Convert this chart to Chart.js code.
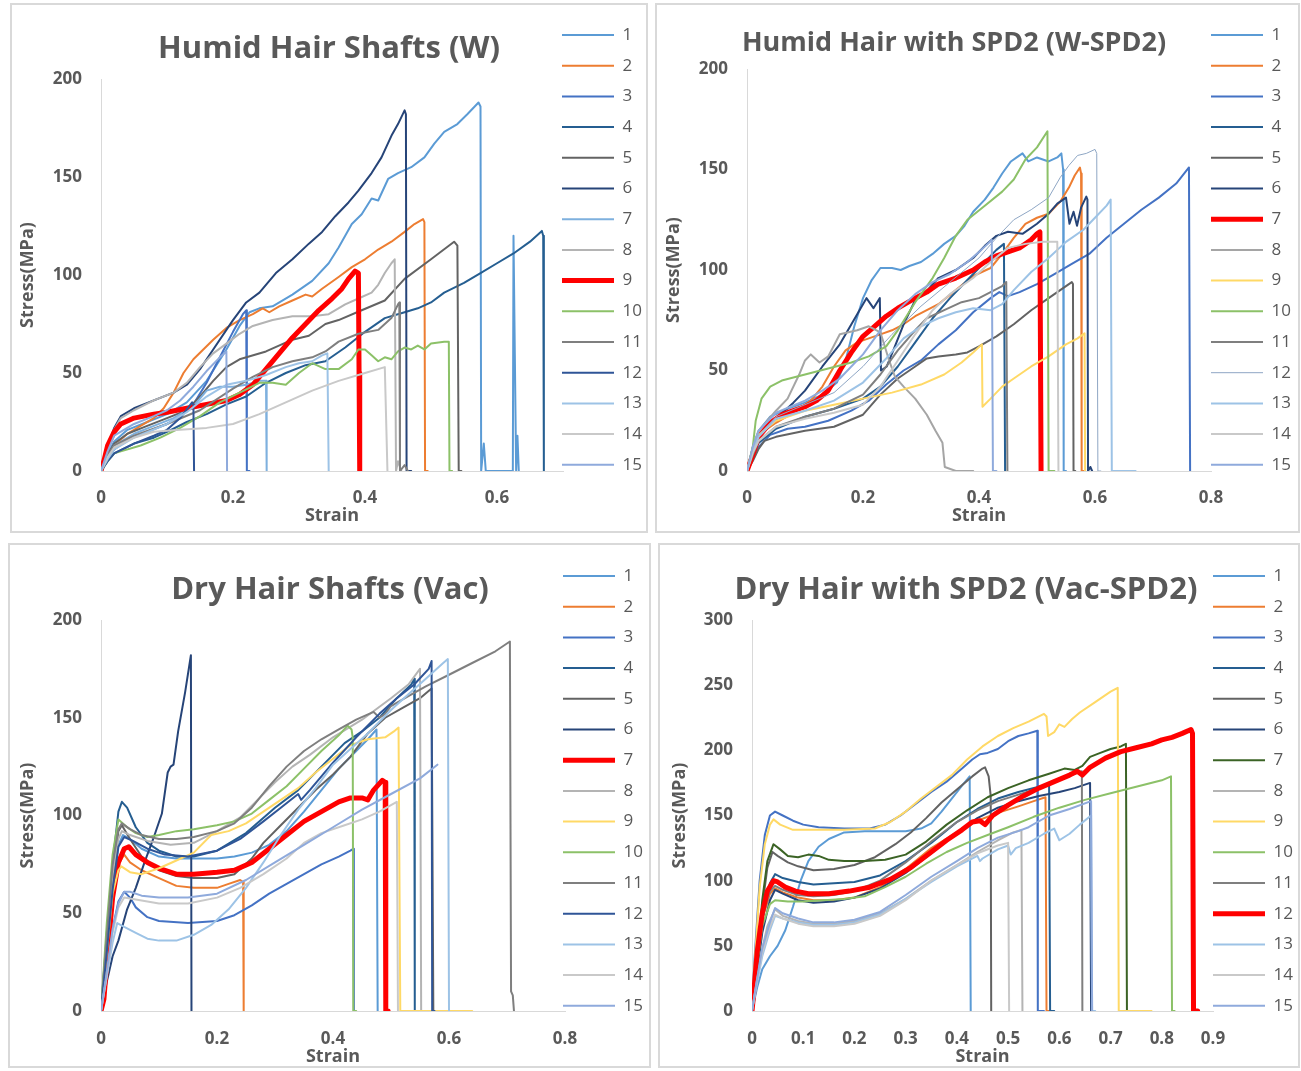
<!DOCTYPE html>
<html>
<head>
<meta charset="utf-8">
<script src="https://cdn.jsdelivr.net/npm/chart.js@4.4.1/dist/chart.umd.min.js"></script>
<style>
  body { margin: 0; background: #fff; }
  .panel { position: absolute; border: 2px solid #d9d9d9; box-sizing: border-box; }
  .panel canvas { display: block; }
</style>
</head>
<body>
<div class="panel" style="left:10px;top:3px;width:638px;height:530px"><canvas id="humidW" width="634" height="526"></canvas></div>
<div class="panel" style="left:655px;top:3px;width:645px;height:530px"><canvas id="humidSpd2" width="641" height="526"></canvas></div>
<div class="panel" style="left:8px;top:543px;width:643px;height:525px"><canvas id="dryVac" width="639" height="521"></canvas></div>
<div class="panel" style="left:658px;top:543px;width:642px;height:525px"><canvas id="drySpd2" width="638" height="521"></canvas></div>
<script>
const seriesNames = ['1','2','3','4','5','6','7','8','9','10','11','12','13','14','15'];

// stress-strain records, one [strain, stress MPa] list per hair shaft
const humidW = [
  [[0,0],[0.01,9],[0.02,15],[0.04,21],[0.07,25],[0.1,29],[0.13,35],[0.16,46],[0.19,62],[0.21,74],[0.225,81],[0.24,83],[0.26,84],[0.29,90],[0.32,97],[0.345,106],[0.36,114],[0.38,126],[0.395,131],[0.41,139],[0.42,138],[0.435,149],[0.45,152],[0.47,155],[0.49,160],[0.505,167],[0.52,173],[0.54,177],[0.555,182],[0.572,188],[0.575,186],[0.576,0],[0.58,14],[0.583,0],[0.624,0],[0.625,120],[0.627,60],[0.629,0],[0.631,18],[0.633,0]],
  [[0,0],[0.01,7],[0.02,13],[0.04,19],[0.06,23],[0.08,27],[0.095,32],[0.11,40],[0.125,50],[0.14,57],[0.155,62],[0.17,67],[0.19,73],[0.21,77],[0.23,80],[0.245,83],[0.255,81],[0.27,84],[0.29,87],[0.31,90],[0.32,89],[0.335,93],[0.36,99],[0.38,104],[0.4,108],[0.42,113],[0.44,117],[0.46,122],[0.475,126],[0.488,128.5],[0.49,127],[0.491,0],[0.495,0]],
  [[0,0],[0.01,6],[0.02,11],[0.04,16],[0.07,20],[0.1,24],[0.12,28],[0.14,34],[0.16,45],[0.18,58],[0.2,71],[0.215,80],[0.22,82],[0.221,0],[0.225,0]],
  [[0,0],[0.01,5],[0.02,9],[0.05,14],[0.08,17],[0.1,20],[0.13,25],[0.16,29],[0.19,34],[0.22,38],[0.25,45],[0.28,50],[0.31,54],[0.34,56],[0.37,63],[0.4,71],[0.43,78],[0.46,81],[0.48,83],[0.5,86],[0.52,91],[0.55,96],[0.575,101],[0.6,106],[0.625,111],[0.65,117],[0.668,122.5],[0.67,120],[0.671,0]],
  [[0,0],[0.01,8],[0.02,14],[0.04,19],[0.07,23],[0.1,27],[0.13,31],[0.15,38],[0.17,46],[0.19,53],[0.21,57],[0.25,61],[0.29,67],[0.315,69],[0.34,75],[0.36,77],[0.395,82],[0.43,87],[0.46,98],[0.5,108],[0.535,117],[0.54,115],[0.542,0],[0.546,0]],
  [[0,0],[0.01,12],[0.02,22],[0.03,28],[0.05,32],[0.08,36],[0.11,40],[0.13,44],[0.15,52],[0.17,62],[0.19,72],[0.2,77],[0.22,86],[0.24,91],[0.265,101],[0.29,108],[0.315,116],[0.335,122],[0.355,130],[0.375,137],[0.39,143],[0.41,152],[0.425,160],[0.44,171],[0.45,177],[0.46,184],[0.462,182],[0.463,0],[0.47,0]],
  [[0,0],[0.01,7],[0.02,13],[0.05,19],[0.08,23],[0.11,27],[0.14,33],[0.16,41],[0.18,43],[0.2,43],[0.22,44],[0.24,46],[0.25,46],[0.251,0]],
  [[0,0],[0.01,12],[0.02,21],[0.03,27],[0.05,31],[0.08,36],[0.11,40],[0.13,45],[0.15,53],[0.17,60],[0.19,65],[0.21,70],[0.23,74],[0.26,77],[0.29,79],[0.32,79],[0.345,80],[0.37,85],[0.39,88],[0.41,91],[0.42,95],[0.43,101],[0.44,106],[0.445,108],[0.447,0],[0.45,5],[0.455,0]],
  [[0,0],[0.005,6],[0.01,13],[0.02,20],[0.03,24],[0.05,27],[0.08,29],[0.1,30],[0.13,32],[0.16,34],[0.19,36],[0.21,39],[0.23,44],[0.25,52],[0.27,60],[0.29,68],[0.31,75],[0.33,82],[0.35,88],[0.365,93],[0.375,98],[0.385,102],[0.39,101],[0.391,50],[0.392,0]],
  [[0,0],[0.01,5],[0.02,9],[0.03,10],[0.06,13],[0.09,17],[0.12,22],[0.15,28],[0.18,35],[0.21,40],[0.24,45],[0.26,45],[0.28,44],[0.3,50],[0.32,55],[0.34,52],[0.36,52],[0.38,57],[0.39,62],[0.4,62],[0.41,59],[0.42,56],[0.43,58],[0.44,57],[0.45,61],[0.46,63],[0.47,62],[0.48,64],[0.49,62],[0.5,65],[0.52,66],[0.527,66],[0.528,0],[0.532,0]],
  [[0,0],[0.01,8],[0.02,13],[0.05,18],[0.1,24],[0.15,31],[0.2,42],[0.23,48],[0.26,53],[0.29,56],[0.32,58],[0.34,61],[0.36,66],[0.39,70],[0.42,72],[0.44,78],[0.45,85],[0.452,86],[0.453,0],[0.46,3],[0.465,0]],
  [[0,0],[0.01,5],[0.02,9],[0.05,14],[0.08,18],[0.1,21],[0.12,27],[0.138,35],[0.14,34],[0.141,0]],
  [[0,0],[0.01,6],[0.02,11],[0.05,17],[0.1,24],[0.13,30],[0.16,38],[0.19,44],[0.22,46],[0.25,49],[0.28,53],[0.3,55],[0.32,56],[0.335,59],[0.343,60],[0.345,0]],
  [[0,0],[0.01,7],[0.02,12],[0.05,17],[0.08,20],[0.12,21],[0.16,22],[0.2,24],[0.24,29],[0.28,35],[0.32,41],[0.36,46],[0.4,50],[0.43,53],[0.434,0]],
  [[0,0],[0.01,10],[0.02,18],[0.05,24],[0.08,28],[0.1,31],[0.12,36],[0.14,43],[0.16,51],[0.18,58],[0.19,61],[0.191,0]]
];

const humidSpd2 = [
  [[0,0],[0.01,12],[0.02,20],[0.04,27],[0.07,31],[0.1,34],[0.13,38],[0.155,44],[0.17,55],[0.185,72],[0.2,86],[0.215,95],[0.23,101],[0.25,101],[0.265,100],[0.28,102],[0.3,104],[0.32,108],[0.34,113],[0.36,117],[0.375,122],[0.39,129],[0.41,135],[0.425,141],[0.44,148],[0.455,154],[0.465,156],[0.475,158],[0.485,154],[0.5,156],[0.52,154],[0.535,156],[0.542,158],[0.545,150],[0.546,0],[0.55,0]],
  [[0,0],[0.01,10],[0.02,18],[0.05,24],[0.08,29],[0.11,35],[0.13,42],[0.15,52],[0.17,60],[0.19,64],[0.21,66],[0.23,68],[0.25,70],[0.27,73],[0.29,77],[0.31,80],[0.33,83],[0.36,90],[0.39,97],[0.42,101],[0.44,108],[0.46,116],[0.48,123],[0.5,126],[0.52,128],[0.54,134],[0.555,141],[0.565,147],[0.574,151],[0.576,148],[0.577,0],[0.58,0]],
  [[0,0],[0.01,6],[0.02,12],[0.04,18],[0.07,21],[0.1,22],[0.14,25],[0.18,30],[0.21,35],[0.24,43],[0.27,50],[0.3,55],[0.33,63],[0.36,70],[0.39,79],[0.42,86],[0.435,89],[0.45,87],[0.47,89],[0.5,93],[0.53,98],[0.56,103],[0.59,108],[0.62,116],[0.65,123],[0.68,130],[0.71,136],[0.74,143],[0.762,151],[0.764,0]],
  [[0,0],[0.01,8],[0.02,14],[0.05,21],[0.1,27],[0.15,31],[0.2,36],[0.23,42],[0.26,52],[0.29,64],[0.32,76],[0.35,86],[0.38,95],[0.41,104],[0.43,110],[0.443,113],[0.445,0]],
  [[0,0],[0.01,5],[0.02,11],[0.03,15],[0.05,17],[0.1,20],[0.15,22],[0.2,28],[0.23,38],[0.26,46],[0.29,52],[0.31,56],[0.33,57],[0.36,58],[0.38,59],[0.4,62],[0.43,67],[0.46,73],[0.49,80],[0.52,86],[0.545,91],[0.56,94],[0.562,93],[0.563,0],[0.566,0]],
  [[0,0],[0.01,10],[0.02,17],[0.05,26],[0.08,34],[0.1,40],[0.13,52],[0.16,63],[0.18,73],[0.2,83],[0.206,86],[0.218,81],[0.229,86],[0.231,50],[0.241,52],[0.255,62],[0.27,73],[0.29,85],[0.305,88],[0.33,96],[0.36,100],[0.39,106],[0.41,112],[0.43,117],[0.45,119],[0.475,118],[0.5,123],[0.52,128],[0.535,133],[0.55,136],[0.556,123],[0.563,129],[0.569,122],[0.576,131],[0.585,136.5],[0.587,135],[0.588,0],[0.592,2],[0.595,0]],
  [[0,0],[0.01,8],[0.02,17],[0.04,24],[0.06,28],[0.08,30],[0.1,32],[0.12,35],[0.14,40],[0.16,50],[0.18,59],[0.2,67],[0.22,72],[0.24,77],[0.26,81],[0.29,86],[0.31,89],[0.33,93],[0.36,96],[0.39,100],[0.41,104],[0.43,107],[0.45,109],[0.47,111],[0.49,115],[0.5,118],[0.505,119],[0.507,0]],
  [[0,0],[0.01,12],[0.02,20],[0.05,30],[0.07,36],[0.09,48],[0.1,55],[0.11,58],[0.125,54],[0.14,57],[0.16,68],[0.19,70],[0.21,72],[0.23,69],[0.245,55],[0.255,47],[0.27,42],[0.29,36],[0.31,28],[0.325,20],[0.337,14],[0.341,2],[0.36,0],[0.39,0]],
  [[0,0],[0.01,10],[0.02,18],[0.05,25],[0.1,30],[0.15,33],[0.2,36],[0.25,39],[0.3,43],[0.34,48],[0.37,54],[0.39,59],[0.405,63],[0.406,32],[0.42,36],[0.44,42],[0.46,46],[0.49,52],[0.52,57],[0.55,63],[0.57,66],[0.582,68.5],[0.583,0]],
  [[0,0],[0.01,12],[0.015,25],[0.025,36],[0.04,42],[0.06,45],[0.1,48],[0.14,51],[0.18,54],[0.21,57],[0.24,62],[0.26,70],[0.29,84],[0.32,96],[0.34,106],[0.36,117],[0.38,125],[0.41,132],[0.44,139],[0.46,145],[0.48,155],[0.5,161],[0.518,169],[0.52,0],[0.53,0]],
  [[0,0],[0.01,8],[0.02,15],[0.05,22],[0.1,27],[0.15,31],[0.2,38],[0.23,48],[0.26,60],[0.29,70],[0.31,76],[0.34,80],[0.37,84],[0.4,86],[0.42,89],[0.44,92],[0.447,94],[0.449,0]],
  [[0,0],[0.01,10],[0.02,18],[0.05,27],[0.1,33],[0.15,39],[0.2,52],[0.25,68],[0.3,82],[0.35,94],[0.4,106],[0.43,116],[0.46,125],[0.49,130],[0.52,136],[0.54,146],[0.555,152],[0.57,157],[0.585,158],[0.6,160],[0.603,158],[0.605,0],[0.61,0]],
  [[0,0],[0.01,10],[0.02,17],[0.05,26],[0.1,30],[0.15,35],[0.2,44],[0.24,56],[0.27,66],[0.3,72],[0.33,76],[0.36,79],[0.39,81],[0.42,80],[0.44,83],[0.46,90],[0.49,99],[0.52,106],[0.55,114],[0.58,120],[0.6,126],[0.62,132],[0.627,135],[0.629,0],[0.67,0]],
  [[0,0],[0.01,9],[0.02,15],[0.05,22],[0.1,26],[0.15,29],[0.2,33],[0.23,42],[0.26,55],[0.29,68],[0.32,80],[0.35,88],[0.39,96],[0.42,104],[0.45,111],[0.48,113],[0.51,114],[0.535,114],[0.537,0]],
  [[0,0],[0.01,12],[0.02,20],[0.05,29],[0.1,35],[0.13,40],[0.16,46],[0.2,58],[0.23,70],[0.26,80],[0.29,88],[0.32,94],[0.35,98],[0.38,104],[0.4,109],[0.415,113],[0.422,115],[0.424,0],[0.43,0]]
];

const dryVac = [
  [[0,0],[0.01,30],[0.02,62],[0.03,85],[0.038,90],[0.05,88],[0.07,83],[0.1,79],[0.13,78],[0.16,78],[0.2,78],[0.23,79],[0.26,81],[0.29,85],[0.32,92],[0.35,102],[0.38,113],[0.41,124],[0.44,133],[0.46,139],[0.475,144],[0.477,0]],
  [[0,0],[0.01,25],[0.02,55],[0.03,75],[0.04,80],[0.05,76],[0.07,72],[0.1,68],[0.13,64],[0.16,63],[0.2,63],[0.22,65],[0.24,67],[0.245,66],[0.246,0]],
  [[0,0],[0.01,20],[0.02,42],[0.03,56],[0.04,61],[0.05,58],[0.06,53],[0.08,48],[0.1,46],[0.15,45],[0.2,46],[0.23,49],[0.26,54],[0.29,60],[0.32,65],[0.35,70],[0.38,75],[0.41,79],[0.43,82],[0.435,83],[0.436,0]],
  [[0,0],[0.01,40],[0.02,75],[0.03,102],[0.036,107],[0.045,104],[0.06,94],[0.08,86],[0.1,82],[0.13,79],[0.16,79],[0.2,82],[0.25,91],[0.3,104],[0.34,113],[0.38,125],[0.42,137],[0.45,143],[0.48,150],[0.51,160],[0.535,167],[0.54,170],[0.541,0]],
  [[0,0],[0.01,35],[0.02,70],[0.03,92],[0.036,95],[0.05,88],[0.07,79],[0.1,72],[0.13,69],[0.16,68],[0.2,68],[0.23,70],[0.26,78],[0.28,86],[0.31,95],[0.34,104],[0.37,113],[0.4,121],[0.43,130],[0.46,142],[0.49,150],[0.52,155],[0.55,160],[0.57,165],[0.573,0]],
  [[0,0],[0.01,15],[0.02,28],[0.03,36],[0.045,52],[0.06,63],[0.075,76],[0.09,88],[0.105,101],[0.115,122],[0.12,125],[0.125,126],[0.133,143],[0.145,163],[0.155,182],[0.156,0]],
  [[0,0],[0.005,6],[0.01,25],[0.02,58],[0.03,76],[0.04,83],[0.048,84],[0.06,80],[0.08,76],[0.1,73],[0.13,70],[0.16,70],[0.2,71],[0.23,72],[0.26,76],[0.29,83],[0.32,90],[0.35,97],[0.38,102],[0.41,107],[0.43,109],[0.45,109],[0.46,108],[0.47,113],[0.485,118],[0.49,117],[0.491,0],[0.495,0]],
  [[0,0],[0.01,35],[0.02,70],[0.03,88],[0.036,92],[0.05,90],[0.08,87],[0.12,85],[0.16,86],[0.2,92],[0.24,99],[0.27,108],[0.3,117],[0.33,125],[0.36,131],[0.4,140],[0.45,149],[0.5,160],[0.53,167],[0.55,175],[0.552,0]],
  [[0,0],[0.01,30],[0.02,60],[0.03,72],[0.035,74],[0.05,71],[0.07,70],[0.1,73],[0.13,77],[0.16,81],[0.19,90],[0.22,92],[0.25,96],[0.28,102],[0.31,108],[0.34,114],[0.37,122],[0.4,129],[0.43,136],[0.46,139],[0.49,140],[0.505,143],[0.513,145],[0.516,0],[0.64,0]],
  [[0,0],[0.01,45],[0.02,80],[0.03,98],[0.045,94],[0.06,91],[0.08,89],[0.1,90],[0.13,92],[0.16,93],[0.2,95],[0.23,97],[0.26,101],[0.29,108],[0.32,115],[0.35,124],[0.38,133],[0.41,141],[0.425,146],[0.432,144],[0.434,140],[0.435,0],[0.44,0]],
  [[0,0],[0.01,38],[0.02,75],[0.03,93],[0.036,96],[0.05,93],[0.07,90],[0.1,88],[0.13,88],[0.16,89],[0.2,92],[0.23,96],[0.26,104],[0.29,115],[0.32,125],[0.35,133],[0.38,139],[0.41,144],[0.44,149],[0.47,153],[0.48,150],[0.49,152],[0.5,156],[0.53,161],[0.56,166],[0.6,172],[0.64,178],[0.68,184],[0.705,189],[0.707,10],[0.71,8],[0.712,0]],
  [[0,0],[0.01,30],[0.02,62],[0.03,84],[0.04,89],[0.055,87],[0.08,83],[0.11,80],[0.15,79],[0.2,82],[0.24,88],[0.28,97],[0.31,104],[0.34,111],[0.345,108],[0.36,113],[0.4,127],[0.44,140],[0.48,152],[0.51,160],[0.54,167],[0.565,175],[0.57,179],[0.571,0],[0.575,0]],
  [[0,0],[0.01,18],[0.02,35],[0.028,45],[0.04,43],[0.06,40],[0.08,37],[0.1,36],[0.13,36],[0.16,39],[0.19,44],[0.22,52],[0.25,63],[0.28,76],[0.31,90],[0.34,103],[0.37,114],[0.4,126],[0.43,134],[0.46,142],[0.5,154],[0.53,162],[0.56,170],[0.59,178],[0.598,180],[0.6,0]],
  [[0,0],[0.01,18],[0.02,40],[0.03,53],[0.04,58],[0.06,57],[0.1,55],[0.15,55],[0.2,58],[0.24,63],[0.28,70],[0.32,78],[0.35,86],[0.38,91],[0.42,95],[0.45,98],[0.48,102],[0.51,107],[0.512,0]],
  [[0,0],[0.01,20],[0.02,42],[0.03,55],[0.04,61],[0.05,61],[0.07,59],[0.1,58],[0.15,58],[0.2,60],[0.25,67],[0.3,76],[0.35,85],[0.4,94],[0.45,103],[0.5,111],[0.55,119],[0.58,126]]
];

const drySpd2 = [
  [[0,0],[0.01,18],[0.02,32],[0.035,42],[0.05,50],[0.065,62],[0.08,80],[0.095,100],[0.11,115],[0.13,126],[0.15,132],[0.18,137],[0.22,138],[0.26,138],[0.3,138],[0.33,140],[0.35,144],[0.37,153],[0.39,163],[0.41,173],[0.425,180],[0.427,0]],
  [[0,0],[0.01,40],[0.02,70],[0.035,90],[0.045,94],[0.06,91],[0.09,87],[0.12,85],[0.16,85],[0.2,87],[0.25,95],[0.3,109],[0.35,125],[0.4,137],[0.44,146],[0.48,152],[0.52,157],[0.55,161],[0.573,164],[0.575,0],[0.58,0]],
  [[0,0],[0.005,40],[0.015,100],[0.025,135],[0.035,150],[0.045,153],[0.06,150],[0.08,146],[0.1,143],[0.13,141],[0.18,140],[0.23,140],[0.26,143],[0.29,150],[0.32,159],[0.35,168],[0.38,176],[0.41,186],[0.43,193],[0.445,197],[0.46,198],[0.48,201],[0.5,207],[0.52,211],[0.54,213],[0.557,215],[0.558,0],[0.57,0]],
  [[0,0],[0.01,35],[0.02,70],[0.035,98],[0.045,105],[0.06,102],[0.09,99],[0.12,97],[0.16,98],[0.2,99],[0.25,104],[0.3,115],[0.35,129],[0.4,145],[0.44,155],[0.48,163],[0.52,168],[0.56,172],[0.58,174],[0.582,0],[0.59,0]],
  [[0,0],[0.01,40],[0.02,80],[0.03,110],[0.04,122],[0.05,119],[0.07,114],[0.09,111],[0.12,108],[0.16,109],[0.2,112],[0.24,118],[0.28,128],[0.31,137],[0.34,148],[0.37,160],[0.4,170],[0.43,180],[0.45,186],[0.455,187],[0.462,180],[0.466,165],[0.467,0]],
  [[0,0],[0.01,30],[0.02,60],[0.035,85],[0.045,93],[0.06,90],[0.09,85],[0.12,83],[0.16,84],[0.2,87],[0.25,94],[0.3,106],[0.35,121],[0.4,137],[0.44,148],[0.48,156],[0.52,161],[0.56,165],[0.6,168],[0.63,171],[0.66,175],[0.662,0],[0.667,0]],
  [[0,0],[0.01,40],[0.02,85],[0.03,115],[0.042,128],[0.055,124],[0.07,119],[0.09,118],[0.11,120],[0.13,119],[0.15,116],[0.18,115],[0.22,115],[0.26,116],[0.3,120],[0.34,130],[0.38,143],[0.42,154],[0.46,164],[0.5,171],[0.54,177],[0.58,182],[0.61,186],[0.63,185],[0.645,188],[0.66,195],[0.68,198],[0.7,201],[0.72,203],[0.73,205],[0.732,0],[0.74,0]],
  [[0,0],[0.01,25],[0.02,48],[0.03,65],[0.045,78],[0.06,73],[0.09,69],[0.12,67],[0.16,67],[0.2,69],[0.25,75],[0.3,86],[0.35,100],[0.4,112],[0.44,122],[0.48,131],[0.51,137],[0.526,139],[0.528,0]],
  [[0,0],[0.005,35],[0.015,95],[0.025,128],[0.035,143],[0.042,147],[0.055,143],[0.08,139],[0.12,139],[0.18,139],[0.24,140],[0.27,145],[0.3,153],[0.33,163],[0.36,172],[0.39,181],[0.42,193],[0.45,203],[0.48,211],[0.51,217],[0.54,222],[0.57,228],[0.575,226],[0.578,211],[0.59,214],[0.6,220],[0.61,218],[0.625,224],[0.64,229],[0.67,237],[0.7,245],[0.714,248],[0.716,0],[0.78,0]],
  [[0,0],[0.01,35],[0.02,65],[0.035,82],[0.045,85],[0.07,84],[0.1,84],[0.14,85],[0.18,86],[0.22,88],[0.26,95],[0.3,103],[0.34,113],[0.38,122],[0.42,129],[0.46,135],[0.5,141],[0.55,149],[0.6,156],[0.65,162],[0.7,167],[0.75,172],[0.8,177],[0.818,180],[0.82,0],[0.825,0]],
  [[0,0],[0.01,38],[0.02,72],[0.035,92],[0.045,96],[0.06,93],[0.09,89],[0.12,88],[0.16,89],[0.2,92],[0.25,100],[0.3,114],[0.35,130],[0.4,145],[0.44,154],[0.48,161],[0.52,166],[0.56,171],[0.6,177],[0.63,182],[0.644,184],[0.645,0]],
  [[0,0],[0.003,12],[0.01,45],[0.02,75],[0.03,92],[0.042,100],[0.05,99],[0.065,95],[0.085,92],[0.11,90],[0.15,90],[0.19,92],[0.23,95],[0.27,101],[0.31,110],[0.35,122],[0.38,131],[0.41,139],[0.43,145],[0.445,146],[0.455,143],[0.47,150],[0.5,158],[0.53,165],[0.56,171],[0.59,176],[0.62,181],[0.635,184],[0.645,181],[0.66,187],[0.69,194],[0.72,199],[0.75,202],[0.78,205],[0.8,208],[0.82,210],[0.84,213],[0.857,216],[0.86,213],[0.862,0],[0.87,0]],
  [[0,0],[0.01,22],[0.02,42],[0.035,62],[0.045,73],[0.06,71],[0.09,68],[0.12,66],[0.16,66],[0.2,68],[0.25,74],[0.3,86],[0.35,99],[0.4,111],[0.44,119],[0.445,115],[0.45,117],[0.48,124],[0.5,127],[0.505,120],[0.515,125],[0.54,129],[0.57,136],[0.59,140],[0.6,131],[0.62,136],[0.64,143],[0.662,150],[0.664,0],[0.67,0]],
  [[0,0],[0.01,24],[0.02,45],[0.035,65],[0.045,74],[0.06,71],[0.09,67],[0.12,65],[0.16,65],[0.2,67],[0.25,73],[0.3,85],[0.35,100],[0.4,112],[0.44,121],[0.48,127],[0.5,129],[0.502,0]],
  [[0,0],[0.01,25],[0.02,48],[0.035,68],[0.045,79],[0.06,75],[0.09,71],[0.12,68],[0.16,68],[0.2,70],[0.25,76],[0.3,89],[0.35,103],[0.4,115],[0.44,125],[0.48,133],[0.52,138],[0.54,141],[0.58,150],[0.62,155],[0.662,161],[0.664,0]]
];

// line colours, series 1..15
const humidWColors = ['#5B9BD5','#ED7D31','#4472C4','#255E91','#636363','#264478','#7EB0DE','#B4B4B4','#FF0000','#8CC168','#7F7F7F','#2F5597','#9DC3E6','#C9C9C9','#8FAADC'];
const humidSpd2Colors = ['#5B9BD5','#ED7D31','#4472C4','#255E91','#636363','#264478','#FF0000','#A5A5A5','#FFD966','#8CC168','#7F7F7F','#8EA6C4','#9DC3E6','#C9C9C9','#8FAADC'];
const dryVacColors = ['#5B9BD5','#ED7D31','#4472C4','#255E91','#636363','#264478','#FF0000','#B4B4B4','#FFD966','#8CC168','#7F7F7F','#2F5597','#9DC3E6','#C9C9C9','#8FAADC'];
const drySpd2Colors = ['#5B9BD5','#ED7D31','#4472C4','#255E91','#636363','#264478','#3B6325','#B4B4B4','#FFD966','#8CC168','#7F7F7F','#FF0000','#9DC3E6','#C9C9C9','#8FAADC'];

const humidWWidths   = [2,2,2,2,2,2,2,2,5,2,2,2,2,2,2];
const humidSpd2Widths = [2,2,2,2,2,2,5,2,2,2,2,1,2,2,2];
const dryVacWidths   = [2,2,2,2,2,2,5,2,2,2,2,2,2,2,2];
const drySpd2Widths  = [2,2,2,2,2,2,2,2,2,2,2,5,2,2,2];

const FONT = "'Open Sans', 'Noto Sans', sans-serif";
const GREY = '#595959';

// nudges the legend and title blocks to where the workbook had them
const boxPlacement = {
  id: 'boxPlacement',
  afterLayout(chart, args, opts) {
    const legend = chart.legend;
    legend.left = opts.legendX - opts.legendPad;
    legend.top = opts.legendY - opts.legendPad - opts.legendFont / 2;
    const title = chart.titleBlock;
    title.left = opts.titleX - 290;
    title.right = opts.titleX + 290;
  }
};

const panels = [
  { id: 'humidW', title: 'Humid Hair Shafts (W)', titleSize: 31, curves: humidW, colors: humidWColors, widths: humidWWidths,
    xMax: 0.7, xStep: 0.2, yMax: 200, left: 89, right: 551, top: 74, bottom: 466,
    titleX: 317, titleY: 44, legendX: 550, legendY: 30, yTitleX: 16, tickY: 493, strainY: 511 },
  { id: 'humidSpd2', title: 'Humid Hair with SPD2 (W-SPD2)', titleSize: 27, curves: humidSpd2, colors: humidSpd2Colors, widths: humidSpd2Widths,
    xMax: 0.8, xStep: 0.2, yMax: 200, left: 90, right: 554, top: 64, bottom: 466,
    titleX: 297, titleY: 38, legendX: 554, legendY: 30, yTitleX: 17, tickY: 493, strainY: 511 },
  { id: 'dryVac', title: 'Dry Hair Shafts (Vac)', titleSize: 31, curves: dryVac, colors: dryVacColors, widths: dryVacWidths,
    xMax: 0.8, xStep: 0.2, yMax: 200, left: 91, right: 555, top: 75, bottom: 466,
    titleX: 320, titleY: 45, legendX: 553, legendY: 31, yTitleX: 18, tickY: 494, strainY: 512 },
  { id: 'drySpd2', title: 'Dry Hair with SPD2 (Vac-SPD2)', titleSize: 31, curves: drySpd2, colors: drySpd2Colors, widths: drySpd2Widths,
    xMax: 0.9, xStep: 0.1, yMax: 300, left: 92, right: 553, top: 75, bottom: 466,
    titleX: 306, titleY: 45, legendX: 553, legendY: 31, yTitleX: 20, tickY: 494, strainY: 512 }
];

const LEGEND_FONT = 17;
const LEGEND_PAD = 13.7;
const TICK_FONT = 17;
const AXIS_FONT = 18;

panels.forEach(p => {
  const canvas = document.getElementById(p.id);
  const W = canvas.width, H = canvas.height;
  const n = p.curves.length;

  const datasets = p.curves.map((pts, i) => ({
    label: seriesNames[i],
    data: pts.map(([x, y]) => ({ x, y })),
    showLine: true,
    borderColor: p.colors[i],
    backgroundColor: p.colors[i],
    borderWidth: p.widths[i],
    pointBorderColor: p.colors[i],
    pointBorderWidth: p.widths[i],
    pointRadius: 0,
    borderJoinStyle: 'round',
    borderCapStyle: 'round',
    order: n - i
  }));

  new Chart(canvas, {
    type: 'scatter',
    data: { datasets },
    plugins: [boxPlacement],
    options: {
      responsive: false,
      animation: false,
      events: [],
      layout: { padding: 0 },
      scales: {
        x: {
          type: 'linear', min: 0, max: p.xMax,
          grid: { display: false, drawTicks: false },
          border: { color: '#D9D9D9', width: 1 },
          ticks: { stepSize: p.xStep, includeBounds: false, padding: p.tickY - p.bottom - TICK_FONT * 0.6,
                   color: GREY, font: { family: FONT, size: TICK_FONT, weight: 'bold' } },
          title: { display: true, text: 'Strain', color: GREY,
                   font: { family: FONT, size: AXIS_FONT, weight: 'bold', lineHeight: 1 },
                   padding: { top: 0, bottom: Math.max(0, H - p.strainY - AXIS_FONT * 0.5) } },
          afterFit: s => { s.height = H - p.bottom; }
        },
        y: {
          min: 0, max: p.yMax,
          grid: { display: false, drawTicks: false },
          border: { color: '#D9D9D9', width: 1 },
          ticks: { stepSize: 50, padding: 19, color: GREY, font: { family: FONT, size: TICK_FONT, weight: 'bold' } },
          title: { display: true, text: 'Stress(MPa)', color: GREY,
                   font: { family: FONT, size: AXIS_FONT, weight: 'bold', lineHeight: 1 },
                   padding: { top: p.yTitleX - AXIS_FONT * 0.5, bottom: 0 } },
          afterFit: s => { s.width = p.left; }
        }
      },
      plugins: {
        title: {
          display: true, text: p.title, fullSize: false, color: GREY,
          font: { family: FONT, size: p.titleSize, weight: 'bold', lineHeight: 1.2 },
          padding: { top: p.titleY - p.titleSize * 0.6, bottom: p.top - p.titleY - p.titleSize * 0.6 }
        },
        legend: {
          position: 'right', align: 'start', maxWidth: W - p.right,
          labels: {
            usePointStyle: true, pointStyle: 'line', pointStyleWidth: 52,
            padding: LEGEND_PAD, color: GREY,
            font: { family: FONT, size: LEGEND_FONT },
            sort: (a, b) => a.datasetIndex - b.datasetIndex
          }
        },
        tooltip: { enabled: false },
        boxPlacement: { legendX: p.legendX, legendY: p.legendY, legendPad: LEGEND_PAD, legendFont: LEGEND_FONT, titleX: p.titleX }
      }
    }
  });
});
</script>
</body>
</html>
